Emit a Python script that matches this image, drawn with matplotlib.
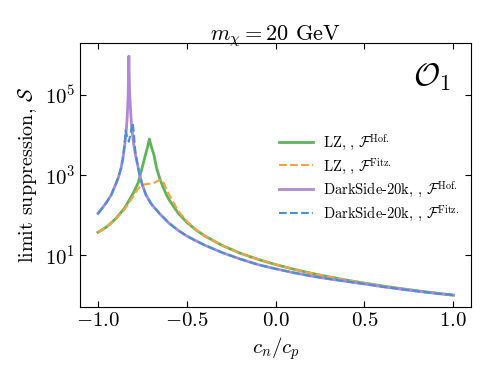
import numpy as np
import matplotlib
matplotlib.use("Agg")
import matplotlib.pyplot as plt
from matplotlib.ticker import FixedLocator, NullLocator, LogFormatterMathtext

plt.rcParams.update({
    "mathtext.fontset": "cm",
    "font.family": "serif",
    "font.serif": ["cmr10", "DejaVu Serif"],
    "axes.formatter.use_mathtext": True,
    "axes.unicode_minus": True,
})

# ---- data ----
lz_hof_x = [-1.0, -0.95, -0.9, -0.85, -0.8, -0.773, -0.75, -0.735, -0.72, -0.711, -0.70, -0.685,
            -0.67, -0.65, -0.62, -0.6, -0.55, -0.5, -0.45, -0.4, -0.3, -0.2, -0.1, 0.0, 0.1, 0.2,
            0.3, 0.4, 0.5, 0.6, 0.7, 0.8, 0.9, 1.0]
lz_hof_s = [37, 51, 81, 149, 361, 650, 1600, 2900, 5200, 7900, 5200, 3200,
            1500, 760, 361, 242, 114, 66, 43, 30.4, 17.4, 11.2, 7.86, 5.8, 4.46, 3.53,
            2.87, 2.37, 2.0, 1.70, 1.47, 1.28, 1.13, 1.0]

lz_fitz_x = [-1.0, -0.95, -0.9, -0.85, -0.8, -0.78, -0.76, -0.74, -0.72, -0.7, -0.68, -0.66,
             -0.645, -0.63, -0.61, -0.59, -0.57, -0.55, -0.5, -0.45, -0.4, -0.3, -0.2, -0.1,
             0.0, 0.1, 0.2, 0.3, 0.4, 0.5, 0.6, 0.7, 0.8, 0.9, 1.0]
lz_fitz_s = [37, 51, 80, 140, 300, 420, 540, 580, 600, 610, 650, 730,
             760, 640, 400, 270, 190, 130, 70, 44, 30.4, 17.4, 11.2, 7.86,
             5.8, 4.46, 3.53, 2.87, 2.37, 2.0, 1.70, 1.47, 1.28, 1.13, 1.0]

ds_hof_x = [-1.0, -0.975, -0.95, -0.925, -0.9, -0.885, -0.87, -0.86, -0.85, -0.84, -0.835, -0.83,
            -0.826, -0.822, -0.817, -0.81, -0.80, -0.79, -0.78, -0.765, -0.75, -0.73, -0.7, -0.65,
            -0.6, -0.55, -0.5, -0.45, -0.4, -0.3, -0.2, -0.1, 0.0, 0.1, 0.2, 0.3, 0.4, 0.5,
            0.6, 0.7, 0.8, 0.9, 1.0]
ds_hof_s = [110, 150, 213, 320, 590, 870, 1500, 2500, 5300, 14000, 30000, 100000,
            930000, 120000, 45000, 15000, 6500, 3400, 2100, 1000, 560, 320, 190, 105,
            63, 42, 30, 23, 17.8, 11.5, 8.0, 5.8, 4.55, 3.65, 3.0, 2.55, 2.2, 1.9,
            1.63, 1.42, 1.25, 1.11, 1.0]

ds_fitz_x = [-1.0, -0.975, -0.95, -0.925, -0.9, -0.885, -0.87, -0.86, -0.85, -0.844, -0.835,
             -0.826, -0.815, -0.804, -0.798, -0.79, -0.78, -0.765, -0.75, -0.73, -0.7, -0.65,
             -0.6, -0.55, -0.5, -0.45, -0.4, -0.3, -0.2, -0.1, 0.0, 0.1, 0.2, 0.3, 0.4, 0.5,
             0.6, 0.7, 0.8, 0.9, 1.0]
ds_fitz_s = [110, 150, 213, 320, 590, 870, 1500, 2500, 6000, 13000, 8500,
             6800, 12000, 20000, 11000, 4000, 2100, 1000, 560, 320, 190, 105,
             63, 42, 30, 23, 17.8, 11.5, 8.0, 5.8, 4.55, 3.65, 3.0, 2.55, 2.2, 1.9,
             1.63, 1.42, 1.25, 1.11, 1.0]

labels = [r"LZ, , $\mathcal{F}^{\mathrm{Hof.}}$",
          r"LZ, , $\mathcal{F}^{\mathrm{Fitz.}}$",
          r"DarkSide-20k, , $\mathcal{F}^{\mathrm{Hof.}}$",
          r"DarkSide-20k, , $\mathcal{F}^{\mathrm{Fitz.}}$"]
yticks = [1e1, 1e3, 1e5]
xticks = [-1.0, -0.5, 0.0, 0.5, 1.0]

fig = plt.figure(figsize=(4.98, 3.83), dpi=100)
ax = fig.add_axes([0.161, 0.198, 0.785, 0.690])

ax.plot(lz_hof_x, lz_hof_s, color="#5db55a", lw=2.0, label=labels[0])
ax.plot(lz_fitz_x, lz_fitz_s, color="#ff9f40", lw=1.5, ls="--", label=labels[1])
ax.plot(ds_hof_x, ds_hof_s, color="#b088d6", lw=2.0, label=labels[2])
ax.plot(ds_fitz_x, ds_fitz_s, color="#4592d6", lw=1.5, ls="--", label=labels[3])

ax.set_yscale("log")
ax.set_xlim(-1.1, 1.1)
ax.set_ylim(10**-0.3, 10**6.3)
ax.yaxis.set_major_locator(FixedLocator(yticks))
ax.yaxis.set_minor_locator(NullLocator())
ax.yaxis.set_major_formatter(LogFormatterMathtext())
ax.set_xticks(xticks)
ax.tick_params(direction="in", top=True, right=True, labelsize=15, length=4)

ax.set_xlabel(r"$c_n/c_p$", fontsize=15)
ax.set_ylabel(r"limit suppression, $\mathcal{S}$", fontsize=14.5)
ax.set_title(r"$m_\chi = 20$ GeV", fontsize=16, pad=2)
ax.text(0.95, 0.87, r"$\mathcal{O}_1$", transform=ax.transAxes, fontsize=23,
        ha="right", va="center")

ax.legend(loc="center", bbox_to_anchor=(0.74, 0.49), frameon=False, fontsize=10.5,
          handlelength=2.3, handletextpad=0.7, labelspacing=0.25)

fig.savefig("out.png", dpi=100)
